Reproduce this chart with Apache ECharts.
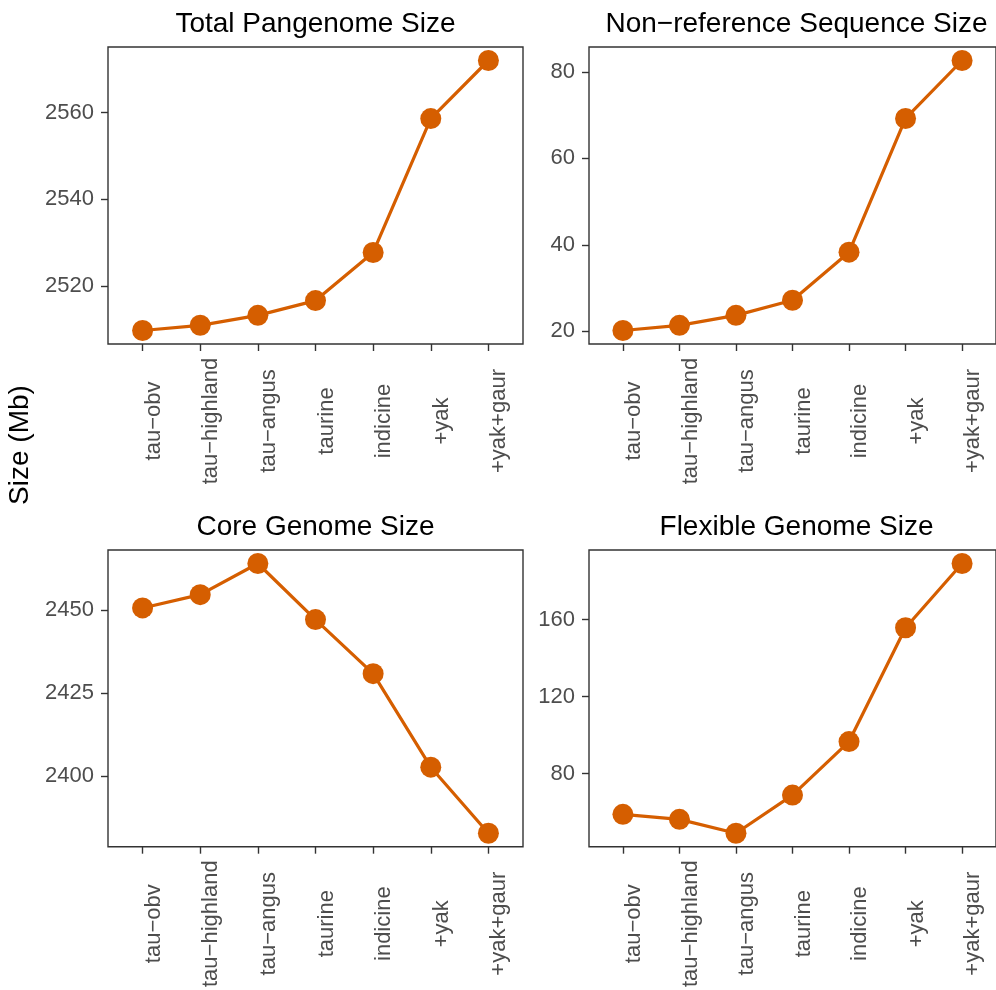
<!DOCTYPE html>
<html>
<head>
<meta charset="utf-8">
<title>Pangenome size by assembly set</title>
<script src="https://cdn.jsdelivr.net/npm/echarts@6/dist/echarts.min.js"></script>
<style>
  html, body { margin: 0; padding: 0; background: #ffffff; }
  #chart { width: 996px; height: 990px; }
</style>
</head>
<body>
<div id="chart"></div>
<script>
// Assembly sets, in the order they were added to the graph
const categories = ['tau\u2212obv', 'tau\u2212highland', 'tau\u2212angus', 'taurine', 'indicine', '+yak', '+yak+gaur'];

// Sizes in Mb
const totalSize    = [2509.7, 2510.9, 2513.2, 2516.6, 2527.7, 2558.6, 2572.0];
const nonRefSize   = [20.2, 21.4, 23.7, 27.2, 38.3, 69.2, 82.6];
const coreSize     = [2450.6, 2454.6, 2464.0, 2447.1, 2430.8, 2402.6, 2382.7];
const flexibleSize = [58.8, 56.2, 49.0, 68.8, 96.6, 155.7, 189.1];

// Y tick marks for each panel
const totalTicks    = [2520, 2540, 2560];
const nonRefTicks   = [20, 40, 60, 80];
const coreTicks     = [2400, 2425, 2450];
const flexibleTicks = [80, 120, 160];

const panelTitles = ['Total Pangenome Size', 'Non\u2212reference Sequence Size', 'Core Genome Size', 'Flexible Genome Size'];
const yAxisTitle = 'Size (Mb)';

const FONT = '"Liberation Sans", Arial, Helvetica, sans-serif';
const ORANGE = '#D55E00';
const FRAME = '#333333';
const TICK_TEXT = '#4D4D4D';

const panels = [
  { values: totalSize,    ticks: totalTicks,    title: panelTitles[0], left: 108, top: 47,  width: 415 },
  { values: nonRefSize,   ticks: nonRefTicks,   title: panelTitles[1], left: 589, top: 47,  width: 416 },
  { values: coreSize,     ticks: coreTicks,     title: panelTitles[2], left: 108, top: 550, width: 415 },
  { values: flexibleSize, ticks: flexibleTicks, title: panelTitles[3], left: 589, top: 550, width: 416 }
];
const PANEL_H = 297;
const catIdx = categories.map((_, i) => i);

const grid = [], xAxis = [], yAxis = [], series = [], graphic = [];

panels.forEach((p, k) => {
  grid.push({
    left: p.left, top: p.top, width: p.width, height: PANEL_H,
    show: true, borderColor: FRAME, borderWidth: 1.4, backgroundColor: '#ffffff',
    containLabel: false
  });
  xAxis.push({
    type: 'value', gridIndex: k, position: 'bottom',
    min: -0.6, max: categories.length - 0.4,
    splitLine: { show: false },
    axisLine: { show: false, onZero: false },
    axisTick: { show: true, customValues: catIdx, length: 7, lineStyle: { color: FRAME, width: 1.4 } },
    axisLabel: {
      customValues: catIdx,
      formatter: v => categories[Math.round(v)],
      rotate: 90, align: 'center', verticalAlign: 'top', margin: 77,
      color: TICK_TEXT, fontSize: 22, fontFamily: FONT
    }
  });
  yAxis.push({
    type: 'value', gridIndex: k, position: 'left',
    min: e => e.min - 0.05 * (e.max - e.min),
    max: e => e.max + 0.05 * (e.max - e.min),
    splitLine: { show: false },
    axisLine: { show: false, onZero: false },
    axisTick: { show: true, customValues: p.ticks, length: 7, lineStyle: { color: FRAME, width: 1.4 } },
    axisLabel: {
      customValues: p.ticks,
      formatter: v => String(v),
      margin: 14, color: TICK_TEXT, fontSize: 22, fontFamily: FONT
    }
  });
  series.push({
    type: 'line', xAxisIndex: k, yAxisIndex: k,
    data: p.values.map((v, i) => [i, v]),
    symbol: 'circle', symbolSize: 21,
    itemStyle: { color: ORANGE },
    lineStyle: { color: ORANGE, width: 3.2 },
    clip: false, silent: true
  });
  graphic.push({
    type: 'text', x: p.left + 415 / 2, y: p.top - 23,
    style: { text: p.title, font: '28px ' + FONT, fill: '#000000', align: 'center', verticalAlign: 'middle' }
  });
});

graphic.push({
  type: 'text', x: 20, y: 445, rotation: Math.PI / 2,
  style: { text: yAxisTitle, font: '28px ' + FONT, fill: '#000000', align: 'center', verticalAlign: 'middle' }
});

const chart = echarts.init(document.getElementById('chart'), null, { renderer: 'canvas' });
chart.setOption({
  backgroundColor: '#ffffff',
  animation: false,
  grid, xAxis, yAxis, series, graphic
});
</script>
</body>
</html>
